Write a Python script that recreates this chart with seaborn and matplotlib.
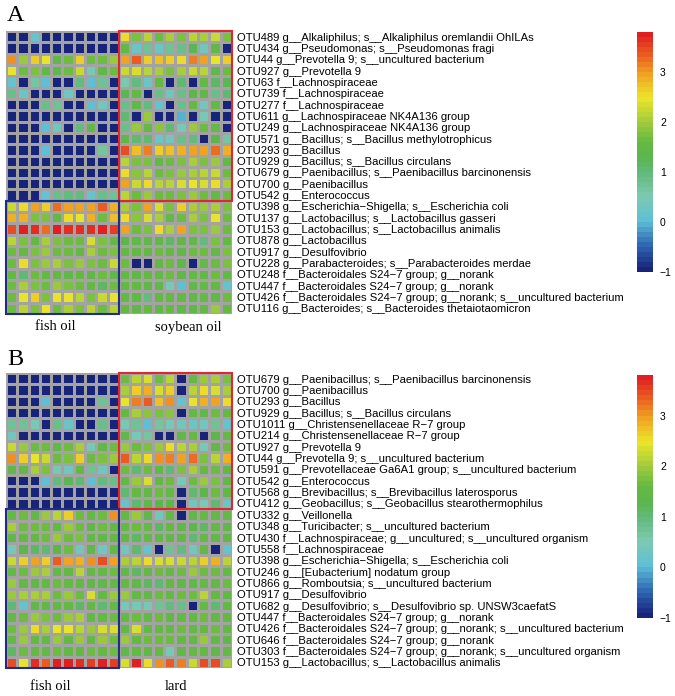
import numpy as np
import pandas as pd
import seaborn as sns
import matplotlib.pyplot as plt
from matplotlib.colors import LinearSegmentedColormap
from matplotlib.patches import Rectangle

# ---- panel A: fish oil vs soybean oil ----
labels_a = [
    "OTU489 g__Alkaliphilus; s__Alkaliphilus oremlandii OhILAs",
    "OTU434 g__Pseudomonas; s__Pseudomonas fragi",
    "OTU44 g__Prevotella 9; s__uncultured bacterium",
    "OTU927 g__Prevotella 9",
    "OTU63 f__Lachnospiraceae",
    "OTU739 f__Lachnospiraceae",
    "OTU277 f__Lachnospiraceae",
    "OTU611 g__Lachnospiraceae NK4A136 group",
    "OTU249 g__Lachnospiraceae NK4A136 group",
    "OTU571 g__Bacillus; s__Bacillus methylotrophicus",
    "OTU293 g__Bacillus",
    "OTU929 g__Bacillus; s__Bacillus circulans",
    "OTU679 g__Paenibacillus; s__Paenibacillus barcinonensis",
    "OTU700 g__Paenibacillus",
    "OTU542 g__Enterococcus",
    "OTU398 g__Escherichia\u2212Shigella; s__Escherichia coli",
    "OTU137 g__Lactobacillus; s__Lactobacillus gasseri",
    "OTU153 g__Lactobacillus; s__Lactobacillus animalis",
    "OTU878 g__Lactobacillus",
    "OTU917 g__Desulfovibrio",
    "OTU228 g__Parabacteroides; s__Parabacteroides merdae",
    "OTU248 f__Bacteroidales S24\u22127 group; g__norank",
    "OTU447 f__Bacteroidales S24\u22127 group; g__norank",
    "OTU426 f__Bacteroidales S24\u22127 group; g__norank; s__uncultured bacterium",
    "OTU116 g__Bacteroides; s__Bacteroides thetaiotaomicron",
]

# 10 fish oil samples, then 10 soybean oil samples
values_a = [
    [-1, -1, 0.1, -1, -1, -1, -1, -1, -1, -1, 2.5, 1.7, 2.1, 1.6, 2.0, 1.7, 2.1, 2.0, 2.2, 1.7],
    [-1, -1, -1, -1, -1, -1, -1, -1, -1, -1, 1.5, 0.2, 0.7, 0.2, 0.7, 0.8, 1.2, 0.3, 1.4, -1],
    [3.0, 1.9, 2.6, 2.4, 1.4, 1.6, 2.6, 1.6, 1.6, 1.9, 2.9, 3.3, 2.6, 2.7, 2.6, 2.5, 3.1, 2.9, 2.4, 2.6],
    [2.4, 1.6, 1.7, 1.4, 1.4, 1.6, 2.2, 0.4, 1.4, 1.6, 2.2, 2.3, 2.1, 2.0, 1.7, 2.0, 2.2, 2.1, 1.4, 1.6],
    [0.1, -1, 0.6, 0.0, -1, -1, 0.9, 0.0, 0.7, -1, 0.5, 0.9, 0.2, 1.5, -1, 1.0, -1, 1.5, 1.1, 1.2],
    [0.8, 0.2, -1, -1, -1, 0.3, -1, -1, -1, -1, 1.2, 1.5, -1, 0.8, 0.3, 0.8, 1.3, 1.4, 0.8, 1.0],
    [-1, -1, -1, 0.8, 0.7, -1, -1, 0.0, 0.3, -1, 0.8, 1.4, 0.9, 0.1, -1, 0.8, 1.5, 0.3, 1.5, -1],
    [-1, -1, -1, -1, -1, -1, -1, -1, -1, -1, 1.0, -1, 1.9, -1, -1, -0.1, -1, 0.4, -1, -1],
    [-1, -1, -1, 0.0, 0.3, -1, 0.9, 1.4, -1, -1, 0.8, 1.9, 1.5, 1.8, 1.0, 0.4, 1.9, 1.6, 1.5, -1],
    [-1, -1, -1, -1, -1, -1, -1, -1, -1, -1, 1.4, 1.0, 1.0, 0.2, 0.3, 0.8, 0.9, -1, 1.3, 0.6],
    [-1, -1, -1, 0.0, -1, -1, -1, -1, 0.6, -1, 3.4, 2.7, 3.1, 2.6, 2.7, 2.8, 2.9, 2.9, 3.2, 2.8],
    [-1, -1, -1, -1, -1, -1, -1, -1, -1, -1, 2.1, 1.7, 1.7, 1.5, 1.6, 1.7, 2.0, 1.7, 1.9, 1.5],
    [-1, -1, -1, -1, -1, -1, -1, -1, -1, -1, 2.5, 1.8, 2.1, 1.6, 1.7, 1.9, 2.0, 2.1, 2.2, 1.6],
    [-1, -1, -1, -1, -1, -1, -1, -1, -1, -1, 2.9, 2.2, 2.5, 2.1, 2.1, 2.3, 2.4, 2.3, 2.5, 2.0],
    [-1, -1, -1, 0.1, 0.8, 0.9, 0.9, 0.1, 0.8, 0.7, 2.1, 1.6, 1.9, 1.6, 1.6, 1.7, 1.9, 1.6, 1.5, 1.6],
    [2.2, 2.5, 2.9, 2.6, 3.2, 2.9, 2.9, 2.9, 3.3, 2.8, 2.0, 1.7, 2.9, 2.3, 1.7, 2.6, 2.0, 1.9, 2.0, 1.7],
    [2.8, 2.8, 1.7, 1.7, 1.5, 2.5, 2.4, 2.8, 1.6, 2.7, 2.5, 1.8, 2.3, 2.0, 1.5, 1.6, 2.0, 1.7, 2.4, 1.6],
    [3.4, 3.7, 3.6, 3.2, 3.7, 3.6, 3.6, 3.6, 3.7, 3.5, 2.9, 1.6, 1.7, 2.5, 2.0, 2.9, 1.7, 1.7, 1.9, 1.6],
    [2.1, 1.7, 1.5, 2.0, 1.7, 1.6, 1.6, 2.3, 1.7, 1.5, 1.3, 1.4, 1.4, 1.4, 1.1, 1.4, 1.4, 0.9, 1.7, 1.5],
    [1.6, 1.5, 1.7, 1.9, 1.6, 1.6, 1.5, 2.0, 1.6, 1.7, 1.5, 1.5, 1.5, 1.6, 1.5, 1.4, 1.6, 1.6, 1.5, 1.7],
    [1.6, 2.5, 1.7, 1.9, 2.0, 1.7, 1.9, 1.7, 1.6, 2.2, 1.6, -1, -1, 1.5, 1.6, 1.4, -1, 1.5, 1.6, 1.7],
    [1.5, 1.0, 1.6, 1.5, 1.5, 1.4, 1.5, 1.4, 1.6, 1.4, 1.5, 1.4, 1.5, 1.5, 1.6, 1.4, 1.5, 1.4, 1.6, 1.5],
    [1.6, 2.0, 1.7, 1.6, 1.9, 1.7, 1.6, 1.5, 1.1, 1.6, 1.5, 1.5, 1.4, 1.4, 0.4, 0.0, 1.4, 1.5, 1.5, 0.1],
    [1.6, 2.4, 2.6, 1.7, 2.4, 2.4, 2.1, 1.7, 2.2, 2.4, 1.5, 1.4, 0.9, 1.5, 1.5, 1.5, 1.4, 1.5, 1.4, 1.6],
    [1.6, 2.1, 1.7, 2.4, 1.6, 2.0, 1.7, 2.1, 1.6, 2.1, 1.5, 1.4, 1.5, 1.4, 1.5, 1.4, 1.4, 1.5, 1.9, 1.5],
]
up_rows_a = 15  # rows enriched in soybean oil (red box)

# ---- panel B: fish oil vs lard ----
labels_b = [
    "OTU679 g__Paenibacillus; s__Paenibacillus barcinonensis",
    "OTU700 g__Paenibacillus",
    "OTU293 g__Bacillus",
    "OTU929 g__Bacillus; s__Bacillus circulans",
    "OTU1011 g__Christensenellaceae R\u22127 group",
    "OTU214 g__Christensenellaceae R\u22127 group",
    "OTU927 g__Prevotella 9",
    "OTU44 g__Prevotella 9; s__uncultured bacterium",
    "OTU591 g__Prevotellaceae Ga6A1 group; s__uncultured bacterium",
    "OTU542 g__Enterococcus",
    "OTU568 g__Brevibacillus; s__Brevibacillus laterosporus",
    "OTU412 g__Geobacillus; s__Geobacillus stearothermophilus",
    "OTU332 g__Veillonella",
    "OTU348 g__Turicibacter; s__uncultured bacterium",
    "OTU430 f__Lachnospiraceae; g__uncultured; s__uncultured organism",
    "OTU558 f__Lachnospiraceae",
    "OTU398 g__Escherichia\u2212Shigella; s__Escherichia coli",
    "OTU246 g__[Eubacterium] nodatum group",
    "OTU866 g__Romboutsia; s__uncultured bacterium",
    "OTU917 g__Desulfovibrio",
    "OTU682 g__Desulfovibrio; s__Desulfovibrio sp. UNSW3caefatS",
    "OTU447 f__Bacteroidales S24\u22127 group; g__norank",
    "OTU426 f__Bacteroidales S24\u22127 group; g__norank; s__uncultured bacterium",
    "OTU646 f__Bacteroidales S24\u22127 group; g__norank",
    "OTU303 f__Bacteroidales S24\u22127 group; g__norank; s__uncultured organism",
    "OTU153 g__Lactobacillus; s__Lactobacillus animalis",
]

# 10 fish oil samples, then 10 lard samples
values_b = [
    [-1, -1, -1, -1, -1, -1, -1, -1, -1, -1, 1.6, 2.1, 2.3, 1.6, 2.1, -1, 1.5, 1.9, 2.0, 1.7],
    [-1, -1, -1, -1, -1, -1, -1, -1, -1, -1, 2.0, 2.6, 2.8, 2.3, 2.6, -1, 2.1, 2.5, 2.3, 2.0],
    [-1, -1, -1, 0.0, -1, -1, -1, -1, 0.7, -1, 2.4, 3.1, 3.3, 2.7, 3.0, 0.1, 2.4, 2.8, 2.9, 2.5],
    [-1, -1, -1, -1, -1, -1, -1, -1, -1, -1, 1.5, 2.0, 1.8, 1.7, 1.8, -1, 1.5, 1.4, 1.6, 1.5],
    [0.7, 0.7, 0.4, -1, 0.8, 0.2, -1, -1, 0.8, -1, 0.4, 0.7, 0.0, 0.6, 0.4, 0.3, 0.2, 0.3, 0.7, 0.1],
    [0.3, -1, -1, -1, -1, -1, -1, -1, -1, -1, 1.4, 0.4, 0.6, -1, -1, 1.4, 1.5, -1, 1.3, 1.5],
    [2.2, 1.9, 1.6, 1.6, 1.4, 1.6, 2.0, 0.4, 1.4, 1.6, 1.9, 1.6, 1.7, 1.9, 2.5, 2.1, 2.0, 0.4, 1.4, 1.6],
    [3.0, 2.6, 2.4, 2.2, 1.6, 1.7, 2.6, 1.6, 1.7, 1.9, 3.3, 2.1, 2.5, 3.0, 3.1, 2.9, 3.2, 1.7, 2.1, 2.8],
    [1.4, 1.5, 2.0, 1.7, 0.4, 0.3, 1.5, 0.7, 0.3, -1, 1.6, 1.0, 1.6, 1.4, 1.0, 1.7, 2.0, 1.5, 1.6, 1.4],
    [-1, -1, -1, 0.0, 0.9, 1.2, 1.0, 0.0, 0.9, 0.8, 1.5, 1.9, 2.3, 1.5, 1.6, 0.4, 1.6, 1.9, 1.7, 1.4],
    [-1, -1, -1, -1, -1, -1, -1, -1, -1, -1, 1.0, 1.5, 1.5, 1.6, 1.5, -1, 1.0, 1.3, 1.6, 1.4],
    [-1, -1, -1, -1, -1, -1, -1, -1, -1, -1, 0.1, 1.0, 1.4, 1.3, 1.3, -1, 0.3, 0.4, 1.0, 0.2],
    [1.5, 1.6, 1.4, 1.9, 2.1, 2.6, 1.6, 1.5, 1.6, 3.0, 1.5, 1.9, 1.4, 0.3, 1.5, -1, 1.4, 1.5, 1.5, 1.5],
    [2.0, 1.6, 1.6, 1.6, 1.5, 1.9, 1.6, 1.4, 1.6, 1.5, 1.5, 1.6, 1.5, 1.1, 1.5, 1.4, 1.3, 1.1, 1.5, 1.4],
    [1.4, 1.5, 1.5, 1.6, 1.9, 1.6, 1.7, 1.5, 1.4, 1.5, 1.4, 1.1, 1.5, 1.4, 1.4, 1.4, 1.0, 1.5, 1.4, 1.4],
    [0.4, 1.3, 1.1, 1.0, 1.3, 1.6, 0.3, 1.4, 0.3, 1.5, 0.3, 1.0, 0.1, -1, 0.7, 0.9, 0.3, 1.5, -1, 0.1],
    [2.2, 2.6, 2.9, 2.6, 3.3, 2.9, 2.8, 3.0, 3.4, 2.9, 2.0, 2.1, 2.5, 2.3, 2.3, 2.2, 2.1, 2.6, 2.8, 2.1],
    [1.5, 1.6, 1.9, 2.0, 1.5, 1.5, 2.1, 1.5, 1.5, 1.6, 1.4, 1.1, 1.5, 1.6, 1.5, 1.6, 1.9, 1.6, 1.6, 1.5],
    [1.9, 1.5, 1.4, 1.5, 1.6, 1.5, 1.5, 1.4, 1.4, 1.5, 1.5, 1.4, 1.1, 1.0, 1.5, 1.4, 1.4, 1.5, 1.5, 1.6],
    [1.9, 2.0, 2.0, 2.0, 1.6, 1.9, 1.6, 2.3, 1.5, 1.9, 1.9, 1.5, 1.5, 1.6, 1.5, 1.6, 1.6, 2.1, 1.5, 1.4],
    [1.0, 0.1, 1.4, 1.4, 1.5, 1.5, 1.1, 1.5, 1.0, 1.5, 0.4, 0.4, 0.4, 0.7, 0.9, 0.8, -1, 1.5, 1.0, 1.5],
    [1.5, 1.6, 1.9, 1.7, 1.6, 1.9, 2.0, 1.5, 1.5, 1.6, 1.5, 1.6, 1.5, 1.6, 1.4, 1.5, 1.5, 1.6, 1.5, 1.5],
    [1.6, 1.9, 2.5, 2.0, 2.4, 2.4, 2.1, 1.9, 2.3, 2.3, 1.5, 2.3, 1.5, 1.5, 1.5, 1.6, 1.5, 1.5, 1.6, 1.5],
    [1.5, 1.9, 1.5, 1.5, 1.9, 1.5, 1.9, 1.5, 1.9, 1.6, 1.9, 1.5, 1.6, 1.6, 1.6, 1.5, 1.5, 1.9, 1.5, 1.4],
    [1.1, 1.6, 1.5, 1.5, 1.6, 1.5, 1.5, 1.6, 1.5, 1.6, 1.4, 1.5, 1.4, 1.5, 0.4, 1.4, 1.5, 1.5, 1.4, 1.5],
    [3.4, 2.4, 3.6, 3.3, 3.7, 3.7, 3.6, 3.5, 3.7, 3.5, 2.3, 3.7, 2.5, 3.0, 3.3, 3.1, 2.2, 3.4, 3.4, 2.0],
]
up_rows_b = 12  # rows enriched in lard (red box)

n_fish = 10
vmin, vmax = -1, 3.8

# jet-like palette
key_vals = [-1.0, -0.5, 0.0, 0.5, 1.0, 1.3, 1.6, 2.0, 2.5, 3.0, 3.4, 3.8]
key_cols = ['#18237a', '#2e66b2', '#5fbfd6', '#7ccab0', '#62b878', '#5bb54c',
            '#66b942', '#9fcb3c', '#ece52a', '#f0a022', '#ea5a22', '#df1f22']
pos = [(v - vmin) / (vmax - vmin) for v in key_vals]
cmap = LinearSegmentedColormap.from_list('key', list(zip(pos, key_cols)), N=48)

W, H = 675, 696
fig = plt.figure(figsize=(W / 100, H / 100), dpi=100)
plt.rcParams['font.family'] = ['Liberation Sans', 'DejaVu Sans']


def px_axes(x0, y0, x1, y1):
    return fig.add_axes([x0 / W, 1 - y1 / H, (x1 - x0) / W, (y1 - y0) / H])


def panel(values, labels, up_rows, top, bottom, cb_top, cb_bottom, letter, letter_y,
          names, name_x, name_y):
    df = pd.DataFrame(values, index=labels)
    ax = px_axes(6, top, 232, bottom)
    cax = px_axes(637, cb_top, 653, cb_bottom)
    sns.heatmap(df, ax=ax, cmap=cmap, vmin=vmin, vmax=vmax, linewidths=0.8,
                linecolor='#a3a3a3', xticklabels=False, yticklabels=True,
                cbar_ax=cax, cbar_kws={'ticks': [-1, 0, 1, 2, 3]})
    ax.yaxis.tick_right()
    ax.set_yticklabels(labels, rotation=0, fontsize=8.1, ha='left')
    ax.tick_params(axis='y', length=0, pad=3.5)
    ax.set_xlabel('')
    ax.set_ylabel('')
    n_rows, n_cols = df.shape
    ax.add_patch(Rectangle((n_fish, 0), n_cols - n_fish, up_rows, fill=False,
                           edgecolor='#e3262b', lw=1.5, clip_on=False, zorder=5))
    ax.add_patch(Rectangle((0, up_rows), n_fish, n_rows - up_rows, fill=False,
                           edgecolor='#1f2d86', lw=1.5, clip_on=False, zorder=5))
    cbar = ax.collections[0].colorbar
    cbar.outline.set_visible(False)
    cax.tick_params(length=0, pad=5, labelsize=7.5)
    fig.text(7 / W, 1 - letter_y / H, letter, family='Liberation Serif',
             fontsize=17.5, va='baseline', ha='left')
    for name, x in zip(names, name_x):
        fig.text(x / W, 1 - name_y / H, name, family='Liberation Serif',
                 fontsize=10.5, ha='center', va='center')


panel(values_a, labels_a, up_rows_a, 31, 314, 32, 272, 'A', 21,
      ['fish oil', 'soybean oil'], [55, 188], 327)
panel(values_b, labels_b, up_rows_b, 373, 668, 375, 618, 'B', 365,
      ['fish oil', 'lard'], [50, 176], 686)

fig.savefig('out.png', dpi=100)
